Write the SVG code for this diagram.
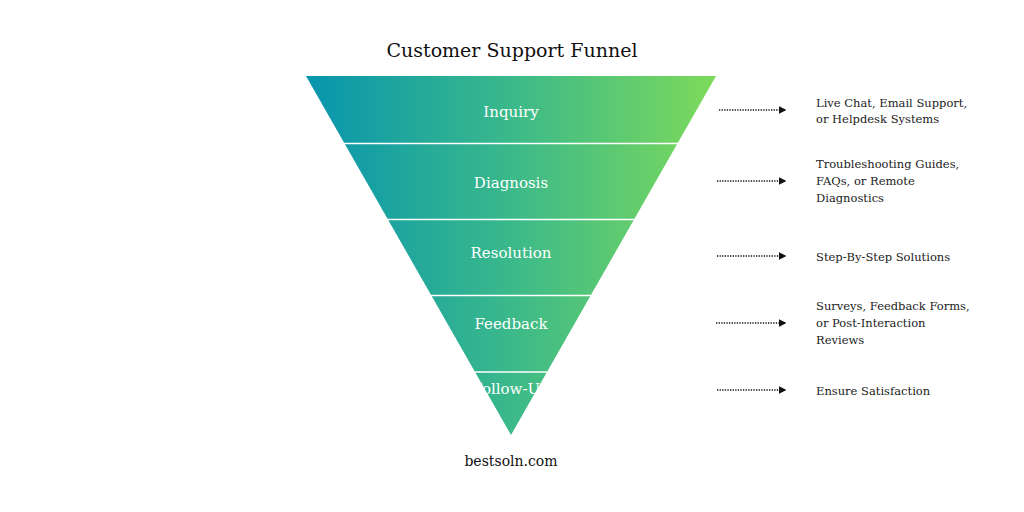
<svg xmlns="http://www.w3.org/2000/svg" width="1024" height="512" viewBox="0 0 1024 512">
<defs>
<linearGradient id="g" x1="306" y1="0" x2="716" y2="0" gradientUnits="userSpaceOnUse">
<stop offset="0" stop-color="#0795ae"/><stop offset="0.5" stop-color="#3bb98a"/><stop offset="1" stop-color="#7dda5a"/>
</linearGradient>
<marker id="ah" markerWidth="6" markerHeight="6" refX="5" refY="3" orient="auto"><path d="M0,0 L6,3 L0,6 z" fill="#111"/></marker>
<style>
.t{font-family:"DejaVu Serif","Liberation Serif",serif;}
.lbl{fill:#fff;font-size:15px;text-anchor:middle;}
.desc{fill:#222;font-size:11.5px;}
.c{stroke:#111;stroke-width:1.3;stroke-dasharray:1.3 1.3;fill:none;marker-end:url(#ah);}
.sep{stroke:#fff;stroke-width:1.5;}
</style>
</defs>
<rect width="1024" height="512" fill="#fff"/>
<text class="t" x="512" y="57" font-size="19" text-anchor="middle" fill="#111">Customer Support Funnel</text>
<g id="funnel">
<polygon points="306,76 716,76 511,435" fill="url(#g)"/>
<line class="sep" x1="344" y1="143.5" x2="678" y2="143.5"/>
<line class="sep" x1="387" y1="219.5" x2="635" y2="219.5"/>
<line class="sep" x1="431" y1="295.5" x2="591" y2="295.5"/>
<line class="sep" x1="475" y1="372" x2="547" y2="372"/>
</g>
<g id="inquiry"><text class="t lbl" x="511" y="117">Inquiry</text></g>
<g id="diagnosis"><text class="t lbl" x="511" y="188">Diagnosis</text></g>
<g id="resolution"><text class="t lbl" x="511" y="258">Resolution</text></g>
<g id="feedback"><text class="t lbl" x="511" y="329">Feedback</text></g>
<g id="followup"><text class="t lbl" x="511" y="394" font-size="10">Follow-Up</text></g>
<g id="connectors">
<line class="c" x1="719" y1="110" x2="785" y2="110"/>
<line class="c" x1="717" y1="181" x2="785" y2="181"/>
<line class="c" x1="717" y1="256" x2="785" y2="256"/>
<line class="c" x1="716" y1="323" x2="785" y2="323"/>
<line class="c" x1="717" y1="390" x2="785" y2="390"/>
</g>
<g id="d1"><text class="t desc" x="816" y="107">Live Chat, Email Support,</text><text class="t desc" x="816" y="123">or Helpdesk Systems</text></g>
<g id="d2"><text class="t desc" x="816" y="168">Troubleshooting Guides,</text><text class="t desc" x="816" y="185">FAQs, or Remote</text><text class="t desc" x="816" y="202">Diagnostics</text></g>
<g id="d3"><text class="t desc" x="816" y="261">Step-By-Step Solutions</text></g>
<g id="d4"><text class="t desc" x="816" y="310">Surveys, Feedback Forms,</text><text class="t desc" x="816" y="327">or Post-Interaction</text><text class="t desc" x="816" y="344">Reviews</text></g>
<g id="d5"><text class="t desc" x="816" y="395">Ensure Satisfaction</text></g>
<text class="t" x="511" y="466" font-size="14" text-anchor="middle" fill="#111">bestsoln.com</text>
</svg>
